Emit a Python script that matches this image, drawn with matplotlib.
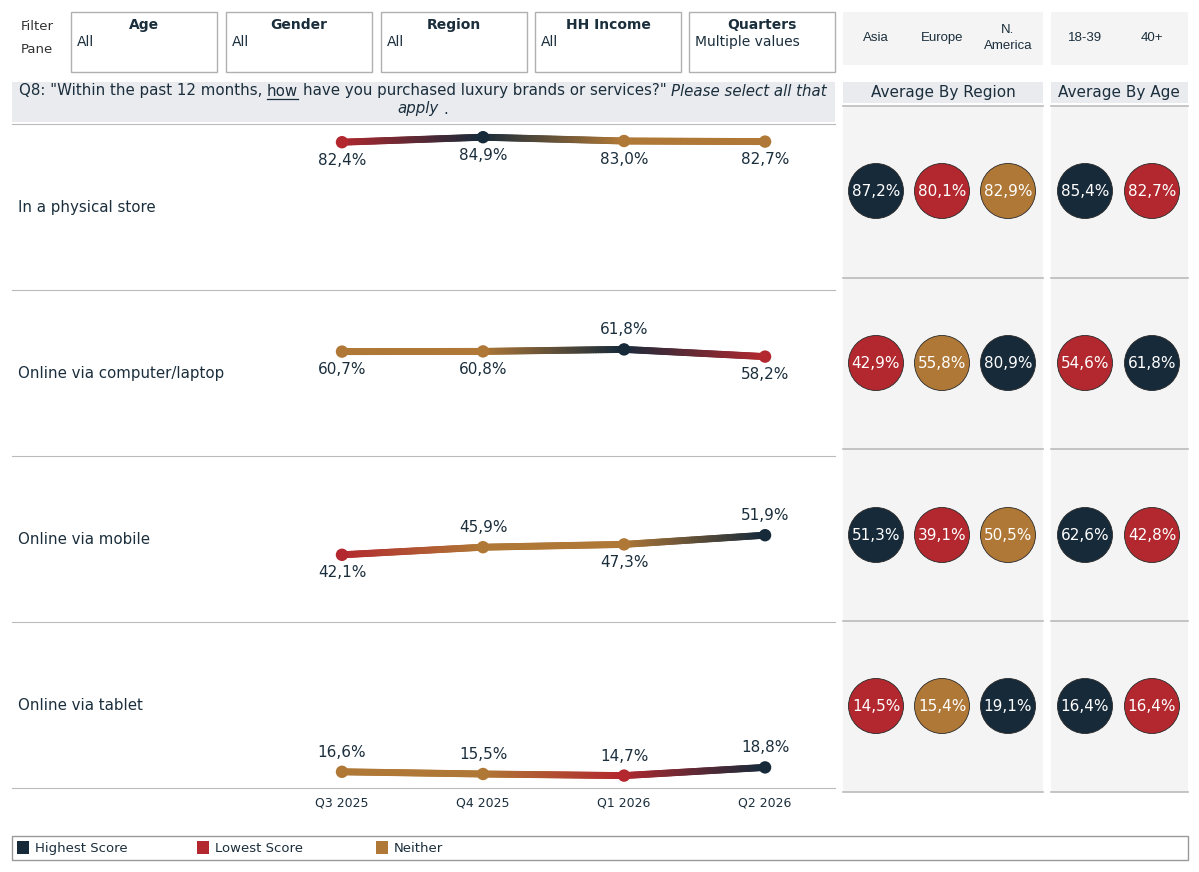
import numpy as np
import matplotlib
matplotlib.use("Agg")
import matplotlib.pyplot as plt
from matplotlib.patches import Rectangle, Circle
from matplotlib.collections import LineCollection
from matplotlib.colors import to_rgb

# ---- data ----
quarters = ["Q3 2025", "Q4 2025", "Q1 2026", "Q2 2026"]
channels = ["In a physical store", "Online via computer/laptop",
            "Online via mobile", "Online via tablet"]
store = [82.4, 84.9, 83.0, 82.7]
computer = [60.7, 60.8, 61.8, 58.2]
mobile = [42.1, 45.9, 47.3, 51.9]
tablet = [16.6, 15.5, 14.7, 18.8]
trend = [store, computer, mobile, tablet]

regions = ["Asia", "Europe", "N.\nAmerica"]
region_avg = [[87.2, 80.1, 82.9],
              [42.9, 55.8, 80.9],
              [51.3, 39.1, 50.5],
              [14.5, 15.4, 19.1]]
ages = ["18-39", "40+"]
age_avg = [[85.4, 82.7],
           [54.6, 61.8],
           [62.6, 42.8],
           [16.4, 16.4]]

filters = ["Age", "Gender", "Region", "HH Income", "Quarters"]
filter_vals = ["All", "All", "All", "All", "Multiple values"]
legend_labels = ["Highest Score", "Lowest Score", "Neither"]

# label placement per row (style, not data)
label_side = [["below"] * 4,
              ["below", "below", "above", "below"],
              ["below", "above", "below", "above"],
              ["above"] * 4]

NAVY = "#172a3a"
RED = "#b2282e"
TAN = "#b07836"
TXT = "#1b2e3c"
GRID = "#bbbbbb"
HDR = "#e9ebef"
PANEL = "#f4f4f4"

W, H = 1199, 872


def rank_colors(vals):
    vals = np.asarray(vals)
    hi = int(np.argmax(vals))
    lo_idx = [i for i in range(len(vals)) if vals[i] == vals.min() and i != hi]
    lo = lo_idx[-1] if lo_idx else int(np.argmin(vals))
    cols = [TAN] * len(vals)
    cols[hi] = NAVY
    cols[lo] = RED
    return cols


def fmt(v):
    return f"{v:.1f}%".replace(".", ",")


fig = plt.figure(figsize=(W / 100, H / 100), dpi=100)
bg = fig.add_axes([0, 0, 1, 1])
bg.set_xlim(0, W)
bg.set_ylim(H, 0)
bg.axis("off")


def rect(x0, y0, x1, y1, fc="none", ec="none", lw=1, z=1):
    bg.add_patch(Rectangle((x0, y0), x1 - x0, y1 - y0, fc=fc, ec=ec, lw=lw, zorder=z))


# ---- filter pane ----
bg.text(37, 38, "Filter\nPane", ha="center", va="center", fontsize=9.5,
        color="#333333", linespacing=2.0)
fx = [71, 226, 381, 535, 689]
for x0, name, val in zip(fx, filters, filter_vals):
    rect(x0, 12, x0 + 146, 72, fc="white", ec="#b0b0b0", lw=1)
    bg.text(x0 + 73, 25, name, ha="center", va="center", fontsize=10,
            fontweight="bold", color=TXT)
    bg.text(x0 + 6, 42, val, ha="left", va="center", fontsize=10, color=TXT)

# ---- column headers right ----
rect(843, 12, 1043, 65, fc=PANEL)
rect(1051, 12, 1188, 65, fc=PANEL)
rx = [876, 942, 1008]
ax_ = [1085, 1152]
for x, lab in zip(rx, regions):
    bg.text(x, 38, lab, ha="center", va="center", fontsize=9.5,
            family="Liberation Sans", color=TXT, linespacing=1.35)
for x, lab in zip(ax_, ages):
    bg.text(x, 38, lab, ha="center", va="center", fontsize=9.5,
            family="Liberation Sans", color=TXT)

# ---- question header ----
rect(12, 82, 835, 122, fc=HDR)
renderer = fig.canvas.get_renderer()


def text_width(s, **kw):
    t = bg.text(0, 0, s, **kw)
    w = t.get_window_extent(renderer).width
    t.remove()
    return w


def draw_pieces(pieces, cx, y, fs):
    sp = text_width("x x", fontsize=fs) - text_width("xx", fontsize=fs)
    widths = []
    for s, style, under in pieces:
        widths.append(text_width(s.strip(), fontsize=fs, style=style))
    gaps = []
    for s, _, _ in pieces:
        gaps.append((sp if s.startswith(" ") else 0, sp if s.endswith(" ") else 0))
    total = sum(widths) + sum(a + b for a, b in gaps)
    x = cx - total / 2
    for (s, style, under), w, (g0, g1) in zip(pieces, widths, gaps):
        x += g0
        bg.text(x, y, s.strip(), ha="left", va="center", fontsize=fs,
                style=style, color=TXT)
        if under:
            bg.plot([x, x + w], [y + 8, y + 8], color=TXT, lw=0.9)
        x += w + g1


line1 = [('Q8: "Within the past 12 months, ', "normal", False),
         ("how", "normal", True),
         (' have you purchased luxury brands or services?" ', "normal", False),
         ("Please select all that", "italic", False)]
line2 = [("apply", "italic", False), (" .", "normal", False)]
draw_pieces(line1, 423, 91, 10.8)
draw_pieces(line2, 423, 109, 10.8)

# ---- right panels ----
rect(843, 82, 1043, 103, fc=HDR)
rect(1051, 82, 1188, 103, fc=HDR)
bg.text(943, 92, "Average By Region", ha="center", va="center", fontsize=11, color=TXT)
bg.text(1119, 92, "Average By Age", ha="center", va="center", fontsize=11, color=TXT)
rect(843, 107, 1043, 792, fc=PANEL)
rect(1051, 107, 1188, 792, fc=PANEL)
for yl in [106, 278, 449, 621, 792]:
    bg.plot([843, 1043], [yl, yl], color=GRID, lw=1.2, zorder=2)
    bg.plot([1051, 1188], [yl, yl], color=GRID, lw=1.2, zorder=2)

cy = [191, 363, 535, 706]
for r in range(4):
    for vals, xs in [(region_avg[r], rx), (age_avg[r], ax_)]:
        cols = rank_colors(vals)
        for x, v, c in zip(xs, vals, cols):
            bg.add_patch(Circle((x, cy[r]), 27.5, fc=c, ec="#2a2a2a", lw=0.6, zorder=3))
            bg.text(x, cy[r], fmt(v), ha="center", va="center", fontsize=11,
                    color="white", zorder=4)

# ---- trend rows ----
row_tops = [124, 290, 456, 622]
xpos = np.arange(len(quarters))
for r in range(4):
    top = row_tops[r]
    ax = fig.add_axes([12 / W, (H - top - 166) / H, 823 / W, 166 / H])
    ax.patch.set_alpha(0)
    ax.set_xlim(-2.34, 3.496)
    ax.set_ylim(8.5, 91.5)
    for s in ["left", "right"]:
        ax.spines[s].set_visible(False)
    ax.spines["top"].set_color(GRID)
    ax.spines["bottom"].set_color(GRID)
    ax.spines["bottom"].set_visible(r == 3)
    ax.set_yticks([])
    if r == 3:
        ax.set_xticks(xpos)
        ax.set_xticklabels(quarters, fontsize=9, color=TXT)
        ax.tick_params(axis="x", length=0, pad=6)
    else:
        ax.set_xticks([])

    vals = trend[r]
    cols = rank_colors(vals)
    segs, seg_cols = [], []
    n = 60
    for i in range(len(vals) - 1):
        c0, c1 = np.array(to_rgb(cols[i])), np.array(to_rgb(cols[i + 1]))
        t = np.linspace(0, 1, n + 1)
        xs = xpos[i] + t * (xpos[i + 1] - xpos[i])
        ys = vals[i] + t * (vals[i + 1] - vals[i])
        for k in range(n):
            segs.append([(xs[k], ys[k]), (xs[k + 1], ys[k + 1])])
            seg_cols.append(c0 + (c1 - c0) * (k + 0.5) / n)
    ax.add_collection(LineCollection(segs, colors=seg_cols, linewidths=5,
                                     capstyle="round", zorder=2))
    ax.scatter(xpos, vals, s=80, c=cols, zorder=3, linewidths=0)
    for x, v, side in zip(xpos, vals, label_side[r]):
        off = -13 if side == "below" else 14
        ax.annotate(fmt(v), (x, v), xytext=(0, off), textcoords="offset points",
                    ha="center", va="center", fontsize=11, color=TXT)

    bg.text(18, top + 83, channels[r], ha="left", va="center", fontsize=10.8, color=TXT)

# ---- legend ----
rect(12, 836, 1188, 860, fc="white", ec="#999999", lw=1)
for x0, lab, c in zip([17, 197, 376], legend_labels, [NAVY, RED, TAN]):
    rect(x0, 841, x0 + 12, 854, fc=c, z=2)
    bg.text(x0 + 18, 848, lab, ha="left", va="center", fontsize=9.5, color=TXT)

fig.savefig("out.png", dpi=100)
